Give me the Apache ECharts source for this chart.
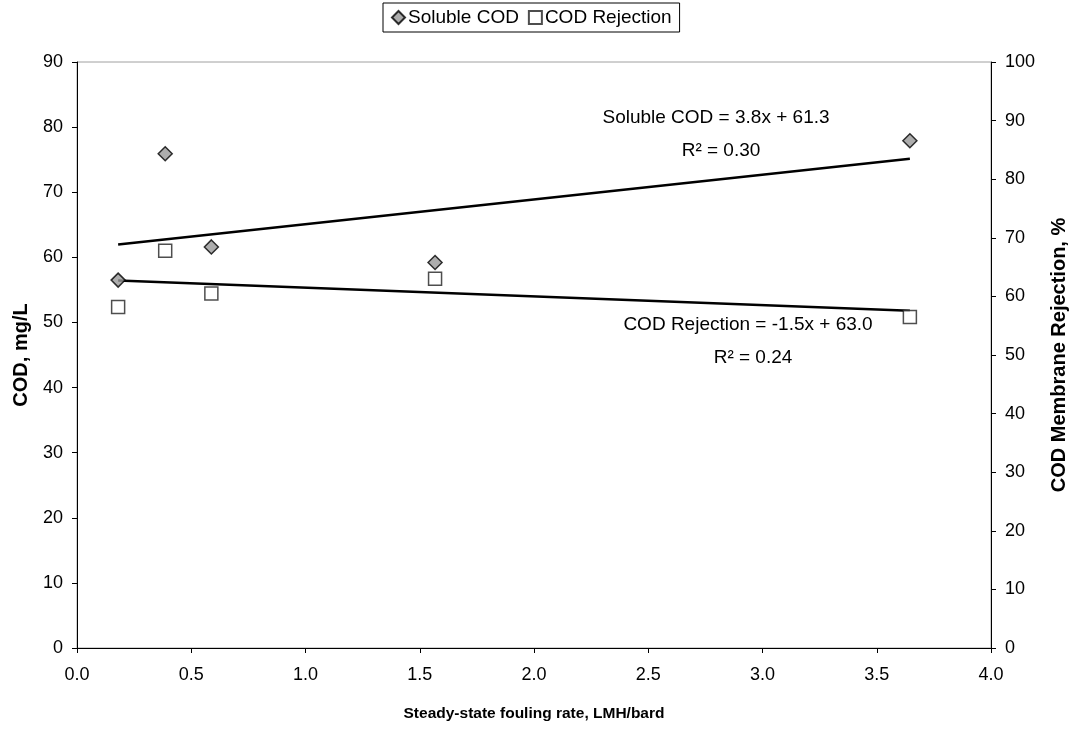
<!DOCTYPE html>
<html>
<head>
<meta charset="utf-8">
<script src="https://cdn.jsdelivr.net/npm/echarts@6/dist/echarts.min.js"></script>
<style>
html,body{margin:0;padding:0;background:#fff;}
#c{width:1075px;height:732px;}
</style>
</head>
<body>
<div id="c"></div>
<script>
// Data
const foulingRate = [0.18, 0.386, 0.588, 1.567, 3.645];
const solubleCOD = [56.5, 75.9, 61.6, 59.2, 77.9];
const codRejection = [58.2, 67.8, 60.5, 63.0, 56.5];
const xTicks = ['0.0','0.5','1.0','1.5','2.0','2.5','3.0','3.5','4.0'];
// Trendline equations as printed on the chart
const solubleFit = {slope: 3.8, intercept: 61.3, r2: '0.30'};
const rejectionFit = {slope: -1.5, intercept: 63.0, r2: '0.24'};

const xMin = Math.min(...foulingRate), xMax = Math.max(...foulingRate);
const fitLine = f => [[xMin, f.intercept + f.slope * xMin], [xMax, f.intercept + f.slope * xMax]];

const FONT = 'Liberation Sans, Arial, sans-serif';
const TICK = 18;
const chart = echarts.init(document.getElementById('c'));
const axisCommon = {
  axisLine: {show: true, lineStyle: {color: '#000', width: 1}},
  axisTick: {show: true, inside: false, length: 5, lineStyle: {color: '#000'}},
  axisLabel: {color: '#000', fontSize: TICK, fontFamily: FONT, margin: 14},
  splitLine: {show: false},
  nameTextStyle: {color: '#000', fontSize: 20, fontWeight: 'bold', fontFamily: FONT}
};
const eqText = (label, f) => label + ' = ' + f.slope.toFixed(1) + 'x + ' + f.intercept.toFixed(1);
const txt = (x, y, text) => ({type: 'text', x: x, y: y, style: {text: text, fontSize: 19, fontFamily: FONT, fill: '#000', align: 'center', verticalAlign: 'middle'}});
chart.setOption({
  animation: false,
  backgroundColor: '#fff',
  grid: {left: 77, right: 84, top: 62, bottom: 84, show: true, borderColor: '#a0a0a0', borderWidth: 1,
    containLabel: false, outerBoundsMode: 'none'},
  legend: {
    top: 3, left: 383,
    data: ['Soluble COD', 'COD Rejection'],
    borderColor: '#000', borderWidth: 1, padding: [5, 8, 5, 8],
    itemGap: 9, itemWidth: 13, itemHeight: 13,
    textStyle: {color: '#000', fontSize: 19, fontFamily: FONT, padding: [0, 0, 0, -2]}
  },
  xAxis: Object.assign({}, axisCommon, {
    type: 'value', min: 0, max: 4, interval: 0.5,
    name: 'Steady-state fouling rate, LMH/bard', nameLocation: 'middle', nameGap: 58,
    nameTextStyle: {color: '#000', fontSize: 15.5, fontWeight: 'bold', fontFamily: FONT},
    axisLabel: {color: '#000', fontSize: TICK, fontFamily: FONT, margin: 18,
      formatter: v => xTicks[Math.round(v / 0.5)]}
  }),
  yAxis: [
    Object.assign({}, axisCommon, {
      type: 'value', min: 0, max: 90, interval: 10, position: 'left',
      name: 'COD, mg/L', nameLocation: 'middle', nameGap: 46, nameRotate: 90
    }),
    Object.assign({}, axisCommon, {
      type: 'value', min: 0, max: 100, interval: 10, position: 'right',
      name: 'COD Membrane Rejection, %', nameLocation: 'middle', nameGap: 58, nameRotate: 90
    })
  ],
  series: [
    {
      name: 'Soluble COD', type: 'scatter', yAxisIndex: 0, symbol: 'diamond', symbolSize: 14,
      itemStyle: {color: '#999999', borderColor: '#000', borderWidth: 1.5},
      data: foulingRate.map((x, i) => [x, solubleCOD[i]]), z: 5
    },
    {
      name: 'COD Rejection', type: 'scatter', yAxisIndex: 1, symbol: 'rect', symbolSize: 13,
      itemStyle: {color: '#fff', borderColor: '#222', borderWidth: 1.5},
      data: foulingRate.map((x, i) => [x, codRejection[i]]), z: 5
    },
    {
      name: 'Soluble trend', type: 'line', yAxisIndex: 0, showSymbol: false, symbol: 'none',
      lineStyle: {color: '#000', width: 2.5}, data: fitLine(solubleFit), z: 3
    },
    {
      name: 'Rejection trend', type: 'line', yAxisIndex: 1, showSymbol: false, symbol: 'none',
      lineStyle: {color: '#000', width: 2.5}, data: fitLine(rejectionFit), z: 3
    }
  ],
  graphic: [
    txt(716, 118, eqText('Soluble COD', solubleFit)),
    txt(721, 151, 'R² = ' + solubleFit.r2),
    txt(748, 325, eqText('COD Rejection', rejectionFit)),
    txt(753, 358, 'R² = ' + rejectionFit.r2)
  ]
});
</script>
</body>
</html>
